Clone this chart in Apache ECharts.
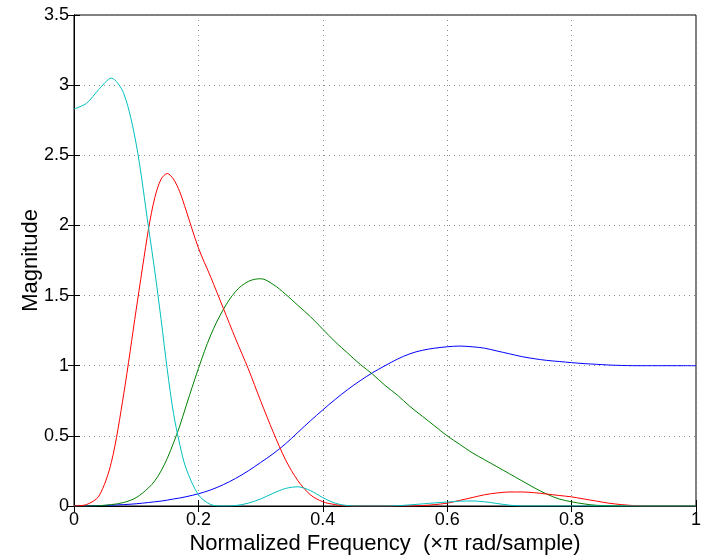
<!DOCTYPE html>
<html>
<head>
<meta charset="utf-8">
<script src="https://cdn.jsdelivr.net/npm/echarts@6/dist/echarts.min.js"></script>
<style>
    html, body { margin: 0; padding: 0; background: #fff; }
    #myChart { width: 702px; height: 556px; }
</style>
</head>
<body>
<div id="myChart"></div>
<script>
    // normalized frequency samples (denser around the red peak)
    var freq = [0.00, 0.02, 0.04, 0.06, 0.08, 0.10, 0.12, 0.13, 0.14, 0.15, 0.16, 0.17, 0.18,
                0.20, 0.22, 0.24, 0.26, 0.28, 0.30, 0.32, 0.34, 0.36, 0.38,
                0.40, 0.42, 0.44, 0.46, 0.48, 0.50, 0.52, 0.54, 0.56, 0.58,
                0.60, 0.62, 0.64, 0.66, 0.68, 0.70, 0.72, 0.74, 0.76, 0.78,
                0.80, 0.82, 0.84, 0.86, 0.88, 0.90, 0.92, 0.94, 0.96, 0.98, 1.00];

    var cyanMag = [2.83, 2.87, 2.97, 3.05, 2.94, 2.58, 1.98, 1.67, 1.33, 0.97, 0.66, 0.44, 0.27,
                   0.08, 0.01, 0.0, 0.003, 0.02, 0.05, 0.09, 0.125, 0.137, 0.11,
                   0.06, 0.02, 0.003, 0.0, 0.0, 0.0, 0.002, 0.008, 0.015, 0.022,
                   0.028, 0.034, 0.036, 0.03, 0.018, 0.006, 0.0, 0.0, 0.0, 0.0,
                   0.0, 0.0, 0.0, 0.0, 0.0, 0.0, 0.0, 0.0, 0.0, 0.0, 0.0];

    var redMag = [0.0, 0.01, 0.07, 0.31, 0.8, 1.4, 1.98, 2.2, 2.33, 2.37, 2.33, 2.24, 2.11,
                  1.84, 1.63, 1.41, 1.19, 0.98, 0.75, 0.53, 0.33, 0.18, 0.08,
                  0.03, 0.01, 0.0, 0.0, 0.0, 0.0, 0.0, 0.0, 0.003, 0.01,
                  0.02, 0.04, 0.06, 0.08, 0.093, 0.1, 0.1, 0.095, 0.085, 0.075,
                  0.065, 0.05, 0.035, 0.02, 0.01, 0.003, 0.0, 0.0, 0.0, 0.0, 0.0];

    var greenMag = [0.0, 0.0, 0.002, 0.01, 0.025, 0.06, 0.13, 0.18, 0.25, 0.34, 0.45, 0.57, 0.71,
                    0.98, 1.22, 1.40, 1.53, 1.60, 1.62, 1.58, 1.51, 1.43, 1.35,
                    1.26, 1.17, 1.09, 1.01, 0.94, 0.86, 0.79, 0.71, 0.64, 0.57,
                    0.50, 0.44, 0.38, 0.33, 0.28, 0.23, 0.18, 0.13, 0.085, 0.05,
                    0.03, 0.015, 0.005, 0.002, 0.0, 0.0, 0.0, 0.0, 0.0, 0.0, 0.0];

    var blueMag = [0.0, 0.001, 0.003, 0.006, 0.01, 0.016, 0.025, 0.03, 0.035, 0.042, 0.05, 0.057, 0.066,
                   0.087, 0.115, 0.152, 0.197, 0.25, 0.31, 0.372, 0.443, 0.525, 0.607,
                   0.685, 0.76, 0.83, 0.893, 0.95, 1.0, 1.047, 1.085, 1.11, 1.125,
                   1.135, 1.14, 1.135, 1.125, 1.105, 1.085, 1.065, 1.05, 1.038, 1.03,
                   1.022, 1.015, 1.01, 1.005, 1.002, 1.0, 1.0, 1.0, 1.0, 1.0, 1.0];

    var xTicks = [0, 0.2, 0.4, 0.6, 0.8, 1];
    var yTicks = [0, 0.5, 1, 1.5, 2, 2.5, 3, 3.5];

    function pairs(ys) {
        return freq.map(function (f, i) { return [f, ys[i]]; });
    }

    var font = 'Liberation Sans, Arial, sans-serif';
    var gridLine = { show: true, lineStyle: { color: '#8a8a8a', type: [1, 4], width: 1 } };

    var myChart = echarts.init(document.getElementById('myChart'));
    myChart.setOption({
        animation: false,
        grid: { left: 74, right: 6, top: 15, bottom: 50, outerBoundsMode: 'none',
                show: true, borderColor: '#000', borderWidth: 1 },
        xAxis: [{
            type: 'value', min: 0, max: 1, interval: 0.2,
            name: 'Normalized Frequency  (\u00d7\u03c0 rad/sample)',
            nameLocation: 'middle', nameGap: 27, nameMoveOverlap: false,
            nameTextStyle: { fontFamily: font, fontSize: 22, color: '#000' },
            axisLine: { lineStyle: { color: '#000' } },
            axisTick: { inside: true, length: 6, lineStyle: { color: '#000' } },
            axisLabel: { fontFamily: font, fontSize: 18, color: '#000', margin: 5,
                formatter: function (v) { return xTicks.indexOf(+v.toFixed(1)) >= 0 ? String(+v.toFixed(1)) : ''; } },
            splitLine: gridLine
        }, {
            type: 'value', min: 0, max: 1, interval: 0.2, position: 'top',
            axisLine: { lineStyle: { color: '#000' } },
            axisTick: { inside: true, length: 6, lineStyle: { color: '#000' } },
            axisLabel: { show: false }, splitLine: { show: false }
        }],
        yAxis: [{
            type: 'value', min: 0, max: 3.5, interval: 0.5,
            name: 'Magnitude', nameLocation: 'middle', nameGap: 32, nameMoveOverlap: false,
            nameTextStyle: { fontFamily: font, fontSize: 22, color: '#000' },
            axisLine: { show: true, lineStyle: { color: '#000' } },
            axisTick: { show: true, inside: true, length: 6, lineStyle: { color: '#000' } },
            axisLabel: { fontFamily: font, fontSize: 18, color: '#000', margin: 5,
                formatter: function (v) { return yTicks.indexOf(+v.toFixed(1)) >= 0 ? String(+v.toFixed(1)) : ''; } },
            splitLine: gridLine
        }, {
            type: 'value', min: 0, max: 3.5, interval: 0.5, position: 'right',
            axisLine: { show: true, lineStyle: { color: '#000' } },
            axisTick: { show: true, inside: true, length: 6, lineStyle: { color: '#000' } },
            axisLabel: { show: false }, splitLine: { show: false }
        }],
        series: [
            { name: 'band4', type: 'line', data: pairs(blueMag), smooth: 0.35, symbol: 'none', lineStyle: { color: '#0000ff', width: 1 } },
            { name: 'band3', type: 'line', data: pairs(greenMag), smooth: 0.35, symbol: 'none', lineStyle: { color: '#008000', width: 1 } },
            { name: 'band2', type: 'line', data: pairs(redMag), smooth: 0.3, symbol: 'none', lineStyle: { color: '#ff0000', width: 1 } },
            { name: 'band1', type: 'line', data: pairs(cyanMag), smooth: 0.3, symbol: 'none', lineStyle: { color: '#00bfbf', width: 1 } }
        ]
    });
</script>
</body>
</html>
